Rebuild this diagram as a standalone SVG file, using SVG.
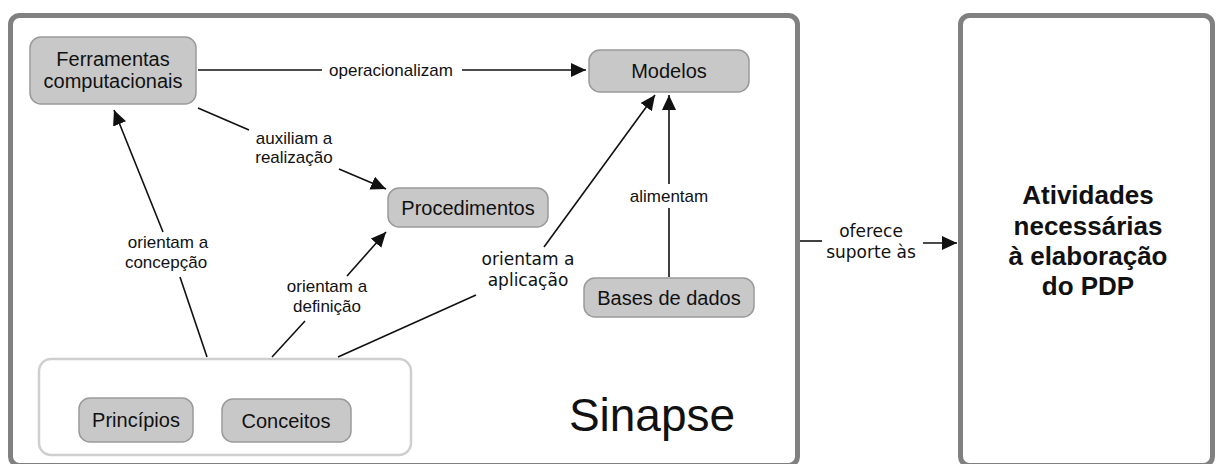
<svg xmlns="http://www.w3.org/2000/svg" width="1216" height="464" viewBox="0 0 1216 464">
<style>
.frame{fill:#fff;stroke:#808080;stroke-width:5}
.node{fill:#c8c8c8;stroke:#9a9a9a;stroke-width:1.5}
.grp{fill:#fff;stroke:#cfcfcf;stroke-width:2.5}
.nt{font-family:"Liberation Sans",Arial,sans-serif;font-size:20px;fill:#111;text-anchor:middle}
.el{font-family:"Liberation Sans",Arial,sans-serif;font-size:17px;fill:#111;text-anchor:middle}
.ed{font-family:"DejaVu Sans",Verdana,sans-serif;font-size:17px;fill:#111;text-anchor:middle}
.big{font-family:"Liberation Sans",Arial,sans-serif;font-size:26px;font-weight:bold;fill:#111;text-anchor:middle}
.c{stroke:#111;stroke-width:1.6;fill:none}
.ca{stroke:#111;stroke-width:1.6;fill:none;marker-end:url(#ah)}
</style>
<defs>
<marker id="ah" markerUnits="userSpaceOnUse" markerWidth="16" markerHeight="14" refX="15" refY="7" orient="auto">
<path d="M0,0 L15,7 L0,14 z" fill="#111"/>
</marker>
</defs>
<g id="sinapse-frame">
<rect class="frame" x="10.5" y="15.5" width="787" height="450" rx="9"/>
<text x="652" y="431" style="font-family:'Liberation Sans',Arial,sans-serif;font-size:46px;fill:#111;text-anchor:middle">Sinapse</text>
</g>
<g id="atividades">
<rect class="frame" x="960.5" y="15.5" width="252" height="450" rx="9"/>
<text class="big" x="1088" y="204">Atividades</text>
<text class="big" x="1088" y="235">necessárias</text>
<text class="big" x="1088" y="265">à elaboração</text>
<text class="big" x="1088" y="295">do PDP</text>
</g>
<g id="grupo">
<rect class="grp" x="39" y="359" width="372" height="96" rx="12"/>
</g>
<g id="ferramentas">
<rect class="node" x="30" y="37" width="166" height="67" rx="11"/>
<text class="nt" x="113" y="66">Ferramentas</text>
<text class="nt" x="113" y="88">computacionais</text>
</g>
<g id="modelos">
<rect class="node" x="589" y="50" width="160" height="42" rx="11"/>
<text class="nt" x="669" y="78">Modelos</text>
</g>
<g id="procedimentos">
<rect class="node" x="388" y="188" width="160" height="39" rx="11"/>
<text class="nt" x="468" y="215">Procedimentos</text>
</g>
<g id="bases">
<rect class="node" x="584" y="278" width="170" height="39" rx="11"/>
<text class="nt" x="669" y="305">Bases de dados</text>
</g>
<g id="principios">
<rect class="node" x="79" y="398" width="114" height="44" rx="11"/>
<text class="nt" x="136" y="427">Princípios</text>
</g>
<g id="conceitos">
<rect class="node" x="222" y="399" width="129" height="43" rx="11"/>
<text class="nt" x="286" y="428">Conceitos</text>
</g>
<g id="connectors">
<line class="c" x1="198" y1="70" x2="322" y2="70"/>
<line class="ca" x1="462" y1="70" x2="586" y2="70"/>
<text class="el" x="391" y="76">operacionalizam</text>
<line class="c" x1="198" y1="108" x2="249" y2="130"/>
<line class="ca" x1="339" y1="169" x2="386" y2="189"/>
<text class="el" x="294" y="144">auxiliam a</text>
<text class="el" x="294" y="163">realização</text>
<line class="c" x1="207" y1="357" x2="180" y2="277"/>
<line class="ca" x1="163" y1="232" x2="114" y2="110"/>
<text class="el" x="168" y="248">orientam a</text>
<text class="el" x="166" y="268">concepção</text>
<line class="c" x1="272" y1="357" x2="305" y2="321"/>
<line class="ca" x1="347" y1="276" x2="386" y2="232"/>
<text class="el" x="327" y="292">orientam a</text>
<text class="el" x="327" y="312">definição</text>
<line class="c" x1="338" y1="357" x2="476" y2="295"/>
<line class="ca" x1="544" y1="247" x2="655" y2="95"/>
<text class="ed" x="528" y="265">orientam a</text>
<text class="ed" x="528" y="286">aplicação</text>
<line class="c" x1="669" y1="277" x2="669" y2="208"/>
<line class="ca" x1="669" y1="184" x2="669" y2="95"/>
<text class="el" x="669" y="202">alimentam</text>
<line class="c" x1="800" y1="241" x2="822" y2="241"/>
<line class="ca" x1="923" y1="243" x2="957" y2="243"/>
<text class="ed" x="871" y="237">oferece</text>
<text class="ed" x="871" y="258">suporte às</text>
</g>
</svg>
